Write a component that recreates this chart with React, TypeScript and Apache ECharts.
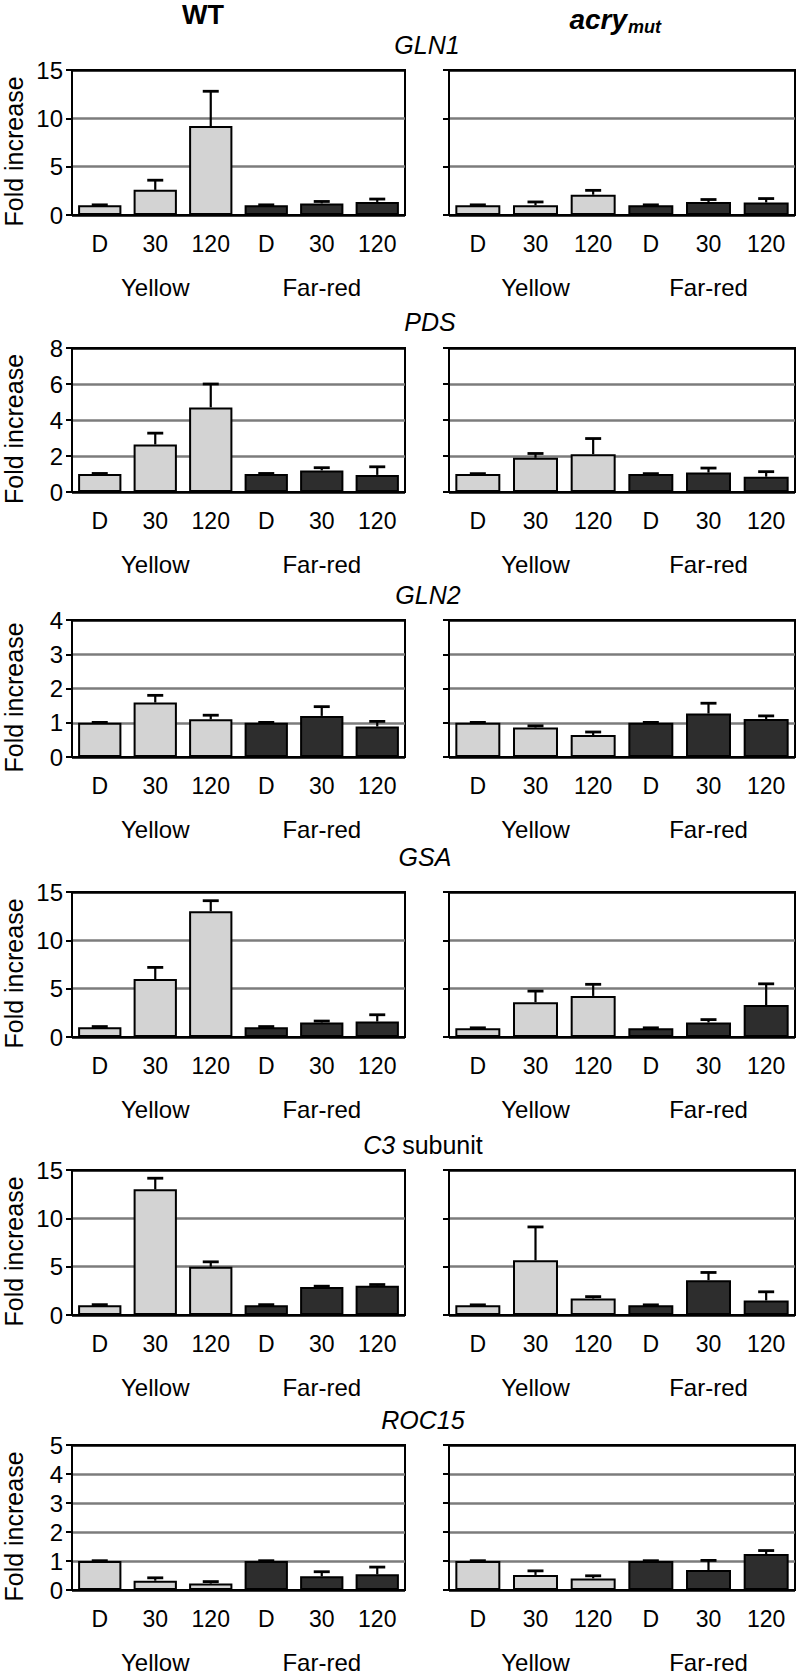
import React, { useEffect, useRef } from "react";
import * as echarts from "echarts";

const categories = ["D", "30", "120", "D", "30", "120"];
const groups = ["Yellow", "Far-red"];
const genes = ["GLN1", "PDS", "GLN2", "GSA", "C3 subunit", "ROC15"];
const yMax = [15, 8, 4, 15, 15, 5];
const yInterval = [5, 2, 1, 5, 5, 1];
const columnTitles = ["WT", "acry", "mut"];
const yAxisName = "Fold increase";

const gln1WT = [1.0, 2.6, 9.2, 1.0, 1.2, 1.35];
const gln1WTErr = [0.05, 1.0, 3.6, 0.05, 0.2, 0.3];
const gln1Mut = [1.0, 1.0, 2.1, 1.0, 1.35, 1.3];
const gln1MutErr = [0.05, 0.35, 0.45, 0.05, 0.25, 0.4];

const pdsWT = [1.0, 2.64, 4.7, 1.0, 1.2, 0.95];
const pdsWTErr = [0.03, 0.63, 1.3, 0.03, 0.15, 0.45];
const pdsMut = [1.0, 1.9, 2.1, 1.0, 1.08, 0.85];
const pdsMutErr = [0.02, 0.24, 0.87, 0.02, 0.25, 0.28];

const gln2WT = [1.0, 1.59, 1.1, 1.0, 1.2, 0.89];
const gln2WTErr = [0.01, 0.21, 0.12, 0.01, 0.27, 0.15];
const gln2Mut = [1.0, 0.86, 0.64, 1.0, 1.27, 1.11];
const gln2MutErr = [0.01, 0.05, 0.09, 0.01, 0.3, 0.09];

const gsaWT = [1.0, 6.0, 13.0, 1.0, 1.5, 1.6];
const gsaWTErr = [0.08, 1.2, 1.1, 0.08, 0.15, 0.7];
const gsaMut = [0.9, 3.6, 4.25, 0.9, 1.5, 3.3];
const gsaMutErr = [0.05, 1.15, 1.2, 0.05, 0.3, 2.2];

const c3WT = [1.0, 13.0, 5.0, 1.0, 2.9, 3.03];
const c3WTErr = [0.07, 1.15, 0.5, 0.07, 0.08, 0.12];
const c3Mut = [1.0, 5.66, 1.7, 1.0, 3.6, 1.5];
const c3MutErr = [0.05, 3.45, 0.2, 0.05, 0.8, 0.9];

const roc15WT = [1.0, 0.32, 0.22, 1.0, 0.47, 0.54];
const roc15WTErr = [0.01, 0.1, 0.07, 0.01, 0.16, 0.25];
const roc15Mut = [1.0, 0.52, 0.4, 1.0, 0.69, 1.24];
const roc15MutErr = [0.01, 0.14, 0.09, 0.01, 0.33, 0.12];

const values = [
  [gln1WT, gln1Mut],
  [pdsWT, pdsMut],
  [gln2WT, gln2Mut],
  [gsaWT, gsaMut],
  [c3WT, c3Mut],
  [roc15WT, roc15Mut],
];
const errors = [
  [gln1WTErr, gln1MutErr],
  [pdsWTErr, pdsMutErr],
  [gln2WTErr, gln2MutErr],
  [gsaWTErr, gsaMutErr],
  [c3WTErr, c3MutErr],
  [roc15WTErr, roc15MutErr],
];

// layout
const W = 797;
const H = 1674;
const FONT = '"Liberation Sans", Arial, Helvetica, sans-serif';
const rowTops = [70, 348, 620, 892, 1170, 1445];
const rowHeights = [145, 144, 137, 145, 145, 146];
const colLefts = [71, 449];
const colWidths = [334, 346];
const titleCenters = [
  [427, 45],
  [430, 322],
  [428, 595],
  [425, 857],
  [423, 1145],
  [423, 1420],
];
const LIGHT = "#d3d3d3";
const DARK = "#2d2d2d";
const GRIDGRAY = "#7c7c7c";
const FS_TICK = 24;
const FS_CAT = 23;
const FS_GROUP = 24;
const FS_NAME = 25;
const FS_TITLE = 25;

function buildOption() {
  const grid: any[] = [];
  const xAxis: any[] = [];
  const yAxis: any[] = [];
  const series: any[] = [];
  const graphic: any[] = [];
  const catIds = categories.map((c, i) => c + "_" + i);

  for (let r = 0; r < 6; r++) {
    for (let c = 0; c < 2; c++) {
      const p = r * 2 + c;
      grid.push({
        left: colLefts[c],
        top: rowTops[r],
        width: colWidths[c],
        height: rowHeights[r],
        show: true,
        borderColor: "#000",
        borderWidth: 2,
        backgroundColor: "transparent",
        containLabel: false,
      });
      xAxis.push({
        type: "category",
        gridIndex: p,
        data: catIds,
        position: "bottom",
        axisLine: { show: true, lineStyle: { color: "#000", width: 2 } },
        axisTick: { show: false },
        axisLabel: {
          show: true,
          interval: 0,
          margin: 17,
          fontSize: FS_CAT,
          fontFamily: FONT,
          color: "#000",
          formatter: (_v: string, i: number) => categories[i],
        },
        splitLine: { show: false },
      });
      xAxis.push({
        type: "category",
        gridIndex: p,
        data: groups,
        position: "bottom",
        offset: 0,
        axisLine: { show: false },
        axisTick: { show: false },
        axisLabel: {
          show: true,
          interval: 0,
          margin: 60,
          fontSize: FS_GROUP,
          fontFamily: FONT,
          color: "#000",
        },
        splitLine: { show: false },
      });
      const nTicks = yMax[r] / yInterval[r] + 1;
      const lineColors: string[] = [];
      for (let k = 0; k < nTicks; k++) {
        lineColors.push(k === 0 || k === nTicks - 1 ? "#000" : GRIDGRAY);
      }
      yAxis.push({
        type: "value",
        gridIndex: p,
        min: 0,
        max: yMax[r],
        interval: yInterval[r],
        axisLine: { show: true, lineStyle: { color: "#000", width: 2 } },
        axisTick: { show: true, length: 6, lineStyle: { color: "#000", width: 2 } },
        axisLabel: {
          show: c === 0,
          margin: 9,
          fontSize: FS_TICK,
          fontFamily: FONT,
          color: "#000",
        },
        splitLine: { show: true, lineStyle: { color: lineColors, width: 2.5 } },
        name: c === 0 ? yAxisName : "",
        nameLocation: "middle",
        nameRotate: 90,
        nameGap: 46,
        nameTextStyle: {
          fontSize: FS_NAME,
          fontFamily: FONT,
          color: "#000",
          padding: [0, 18, 0, 0],
        },
      });
      const vals = values[r][c];
      const errs = errors[r][c];
      series.push({
        type: "bar",
        xAxisIndex: 2 * p,
        yAxisIndex: p,
        barCategoryGap: "22%",
        data: vals.map((v, i) => ({
          value: v,
          itemStyle: { color: i < 3 ? LIGHT : DARK },
        })),
        itemStyle: { borderColor: "#000", borderWidth: 2 },
        silent: true,
      });
      series.push({
        type: "custom",
        xAxisIndex: 2 * p,
        yAxisIndex: p,
        encode: { x: 0, y: [1, 2] },
        data: vals.map((v, i) => [i, v, v + errs[i]]),
        z: 5,
        silent: true,
        renderItem: (_params: any, api: any) => {
          const x = api.value(0);
          const base = api.coord([x, api.value(1)]);
          const top = api.coord([x, api.value(2)]);
          const half = 8;
          return {
            type: "group",
            children: [
              {
                type: "line",
                shape: { x1: base[0], y1: base[1], x2: top[0], y2: top[1] },
                style: { stroke: "#000", lineWidth: 2.2 },
              },
              {
                type: "line",
                shape: { x1: top[0] - half, y1: top[1], x2: top[0] + half, y2: top[1] },
                style: { stroke: "#000", lineWidth: 2.8 },
              },
            ],
          };
        },
      });
    }
    // row title
    const gene = genes[r];
    const isC3 = gene.indexOf(" ") > 0;
    graphic.push({
      type: "text",
      x: titleCenters[r][0],
      y: titleCenters[r][1],
      style: {
        text: isC3 ? "{i|" + gene.split(" ")[0] + "} " + gene.split(" ")[1] : gene,
        fontSize: FS_TITLE,
        fontFamily: FONT,
        fontStyle: isC3 ? "normal" : "italic",
        fill: "#000",
        align: "center",
        verticalAlign: "middle",
        textAlign: "center",
        textVerticalAlign: "middle",
        rich: {
          i: { fontStyle: "italic", fontSize: FS_TITLE, fontFamily: FONT, fill: "#000" },
        },
      },
    });
  }

  graphic.push({
    type: "text",
    x: 203,
    y: 15,
    style: {
      text: columnTitles[0],
      fontSize: 27,
      fontWeight: "bold",
      fontFamily: FONT,
      fill: "#000",
      align: "center",
      verticalAlign: "middle",
      textAlign: "center",
      textVerticalAlign: "middle",
    },
  });
  graphic.push({
    type: "text",
    x: 627,
    y: 19,
    style: {
      text: columnTitles[1],
      fontSize: 28,
      fontWeight: "bold",
      fontStyle: "italic",
      fontFamily: FONT,
      fill: "#000",
      align: "right",
      verticalAlign: "middle",
      textAlign: "right",
      textVerticalAlign: "middle",
    },
  });
  graphic.push({
    type: "text",
    x: 628,
    y: 27,
    style: {
      text: columnTitles[2],
      fontSize: 18,
      fontWeight: "bold",
      fontStyle: "italic",
      fontFamily: FONT,
      fill: "#000",
      align: "left",
      verticalAlign: "middle",
      textAlign: "left",
      textVerticalAlign: "middle",
    },
  });

  return {
    animation: false,
    backgroundColor: "#fff",
    textStyle: { fontFamily: FONT },
    grid,
    xAxis,
    yAxis,
    series,
    graphic,
  };
}

export default function App() {
  const ref = useRef<HTMLDivElement>(null);
  useEffect(() => {
    if (!ref.current) return;
    const chart = echarts.init(ref.current, undefined, { renderer: "svg", width: W, height: H });
    chart.setOption(buildOption() as any);
    return () => chart.dispose();
  }, []);
  return (
    <div
      ref={ref}
      style={{ position: "absolute", left: 0, top: 0, width: W, height: H, background: "#fff" }}
    />
  );
}
